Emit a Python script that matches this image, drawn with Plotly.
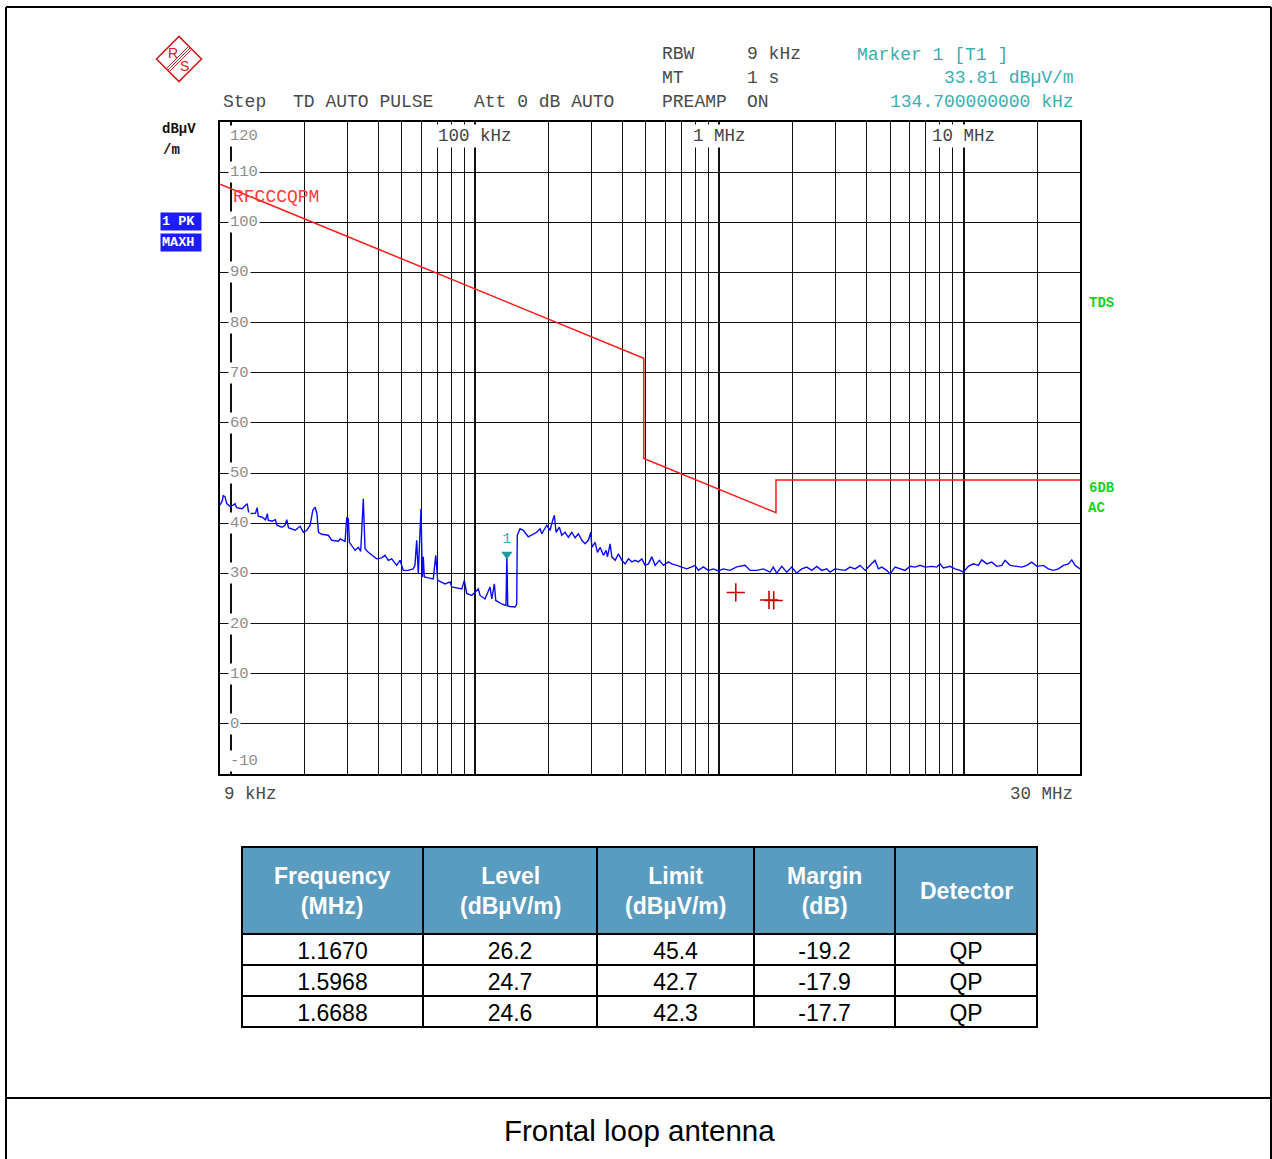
import math
import plotly.graph_objects as go

W, H = 1272, 1159


def px(x):
    return x / W


def py(y):
    return 1 - y / H


# ---------------- data ----------------
freq_khz = [
    9.0, 9.2, 9.28, 9.43, 9.59, 9.88, 10.2, 10.37, 10.53, 11.09, 11.45, 11.63, 11.82, 12.2, 12.58,
    12.78, 12.91, 13.4, 13.82, 14.07, 14.18, 14.7, 15.18, 15.4, 16.14, 16.63, 16.9, 17.17, 18.27,
    19.15, 19.77, 20.41, 21.06, 21.6, 22.08, 22.46, 22.78, 23.52, 25.0, 25.83, 27.5, 27.94, 29.28,
    29.75, 30.2, 30.5, 32.17, 33.2, 33.94, 34.78, 35.1, 35.34, 36.46, 37.65, 39.45, 41.37, 42.67,
    44.02, 45.46, 47.65, 49.16, 50.71, 53.1, 55.7, 56.6, 57.54, 58.42, 59.92, 60.67, 61.23, 61.81,
    64.19, 67.3, 68.85, 70.15, 75.2, 78.83, 80.11, 88.05, 90.17, 92.2, 96.7, 101.4, 102.9, 104.6,
    109.6, 114.9, 116.8, 119.7, 121.3, 128.3, 133.6, 134.7, 135.8, 138.8, 145.5, 147.8, 148.6,
    152.5, 157.3, 164.9, 172.8, 178.5, 184.2, 187.2, 196.2, 202.4, 207.6, 210.8, 214.2, 221,
    226.1, 233.2, 240.6, 248.5, 256.3, 264.5, 273.1, 281.7, 290.6, 297.3, 300.1, 309.6, 316.4,
    324.6, 334.9, 343.5, 347.9, 356.7, 362.5, 374, 385.8, 398.4, 410.9, 424, 437.8, 451.7, 466,
    481.1, 496.3, 512, 528.6, 545.3, 567.9, 589.8, 618.2, 638.1, 669.1, 701.3, 734.9, 770.5,
    794.7, 819.8, 859.4, 900.8, 944.3, 989.8, 1037.6, 1105, 1177, 1274, 1335, 1422, 1514, 1613,
    1663, 1717, 1800, 1887, 1978, 2073, 2173, 2279, 2389, 2505, 2625, 2752, 2840, 2977, 3120,
    3271, 3430, 3596, 3769, 3952, 4076, 4341, 4479, 4624, 4847, 5000, 5242, 5495, 5761, 6039,
    6331, 6637, 6958, 7411, 7769, 8015, 8269, 8807, 9233, 9678, 9986, 10467, 10971, 11500,
    11876, 12451, 13050, 13680, 14337, 14796, 15507, 16515, 17316, 18153, 19035, 19953, 21231,
    22266, 23337, 24462, 25641, 26883, 27756, 28629, 30000,
]
level_dbuv = [
    43.6, 44.5, 45.5, 45.3, 43.9, 43.4, 43.6, 43.9, 43.1, 42.9, 43.6, 43.9, 41.9, 41.9, 42.0,
    43.1, 41.4, 41.2, 40.7, 41.9, 40.6, 40.4, 40.7, 39.6, 39.2, 39.6, 40.7, 39.1, 38.6,
    39.4, 38.2, 38.6, 39.6, 42.6, 43.2, 41.9, 38.2, 37.8, 37.6, 36.6, 36.4, 36.9, 36.4,
    41.2, 40.9, 36.2, 34.6, 35.2, 34.4, 44.9, 37.2, 34.9, 34.2, 33.6, 32.9, 33.1, 33.6,
    32.6, 32.9, 31.6, 32.6, 30.6, 30.6, 30.9, 31.6, 36.6, 29.9, 42.9, 29.3, 33.3, 29.3,
    29.1, 28.9, 33.6, 28.6, 27.9, 28.3, 27.3, 26.9, 28.6, 26.0, 25.6, 26.6, 26.9, 25.6,
    24.9, 27.3, 24.9, 27.9, 24.6, 23.9, 23.6, 33.8, 23.5, 23.4, 23.3, 23.9, 37.6,
    38.9, 38.6, 37.3, 37.9, 38.2, 38.9, 37.9, 39.6, 38.6, 40.6, 41.6, 38.2, 39.2,
    37.6, 38.2, 37.2, 38.2, 37.1, 37.9, 36.6, 35.9, 36.6, 38.2, 35.2, 36.2, 34.2,
    35.2, 33.6, 34.6, 33.3, 35.9, 33.3, 32.6, 33.9, 32.6, 31.9, 32.9, 32.3, 32.6, 32.3,
    32.9, 31.6, 31.9, 33.3, 31.6, 32.6, 31.6, 32.3, 31.9, 31.6, 31.3, 30.9, 31.3,
    31.6, 30.6, 31.3, 30.6, 30.9, 30.5, 30.9, 30.6, 31.3, 31.6, 30.6, 30.6, 30.9, 30.25,
    31.25, 30.05, 31.4, 30.25, 31.25, 30.05, 30.9, 31.25, 30.6, 31.4, 30.6, 30.9, 30.25, 30.9, 30.7,
    30.6, 31.25, 30.9, 31.6, 30.6, 31.25, 32.6, 30.9, 31.25, 30.6, 29.9, 31.25, 30.9, 30.6, 31.4,
    31.25, 31.6, 31.25, 31.4, 31.25, 31.9, 31.1, 31.4, 30.9, 30.6, 30.25, 31.4, 31.9, 31.6,
    32.7, 31.9, 32.25, 31.4, 31.6, 32.6, 31.6, 31.4, 31.25, 31.6, 32.25, 31.4, 31.6,
    30.9, 30.6, 30.9, 31.6, 31.9, 32.7, 31.6, 30.9,
]

limit_freq_khz = [9, 490, 490, 1705, 1705, 30000]
limit_dbuv = [107.6, 72.9, 52.9, 42.1, 48.6, 48.6]

marker_freq_khz = [134.7]
marker_level = [33.81]
marker_name = ["1"]

qp_freq_mhz = [1.1670, 1.5968, 1.6688]
qp_level = [26.2, 24.7, 24.6]
qp_limit = [45.4, 42.7, 42.3]
qp_margin = [-19.2, -17.9, -17.7]
qp_detector = ["QP", "QP", "QP"]
table_headers = ["Frequency<br>(MHz)", "Level<br>(dBµV/m)",
                 "Limit<br>(dBµV/m)", "Margin<br>(dB)", "Detector"]

y_label_vals = [120, 110, 100, 90, 80, 70, 60, 50, 40, 30, 20, 10, 0, -10]
x_top_label_khz = [100, 1000, 10000]
x_top_label_txt = ["100 kHz", "1 MHz", "10 MHz"]

F_MIN, F_MAX = 9, 30000
Y_MIN, Y_MAX = -10, 120

MONO = "Liberation Mono"
SANS = "Liberation Sans"
TEAL = "#3aafaf"
GRN = "#19d119"

fig = go.Figure()

# limit line (on decade-grid overlay axis, same scale)
fig.add_trace(go.Scatter(x=limit_freq_khz, y=limit_dbuv, mode="lines",
                         line=dict(color="#ff1a1a", width=1.5), xaxis="x2", yaxis="y",
                         hoverinfo="skip", showlegend=False))
# measured trace
fig.add_trace(go.Scatter(x=freq_khz, y=level_dbuv, mode="lines",
                         line=dict(color="#0a0aff", width=1.4), hoverinfo="skip", showlegend=False))
# QP results
fig.add_trace(go.Scatter(x=[f * 1000 for f in qp_freq_mhz], y=qp_level, mode="markers",
                         marker=dict(symbol="cross-thin", size=13, line=dict(color="#cc0000", width=1.6)),
                         hoverinfo="skip", showlegend=False))
# marker 1
fig.add_trace(go.Scatter(x=marker_freq_khz, y=marker_level, mode="markers+text",
                         text=marker_name, textposition="top center",
                         textfont=dict(family=MONO, size=15, color=TEAL),
                         marker=dict(symbol="triangle-down", size=10, color="#1f9c9c"),
                         hoverinfo="skip", showlegend=False))

# table (header text drawn as centred annotations below)
col_w = [181, 174, 157, 141, 142]
TBL_X0, TBL_X1 = 242, 1037
fig.add_trace(go.Table(
    domain=dict(x=[px(TBL_X0), px(TBL_X1)], y=[py(1028), py(847)]),
    columnwidth=col_w,
    header=dict(values=[""] * len(table_headers), fill_color="#5a9bc0",
                line=dict(color="black", width=2), align="center",
                font=dict(family=SANS, size=22, color="white"), height=87),
    cells=dict(values=[qp_freq_mhz, qp_level, qp_limit, qp_margin, qp_detector],
               format=[".4f", ".1f", ".1f", ".1f", ""],
               fill_color="white", line=dict(color="black", width=2), align="center",
               font=dict(family=SANS, size=23, color="black"), height=31),
))

xr = [math.log10(F_MIN), math.log10(F_MAX)]
fig.update_layout(
    width=W, height=H, margin=dict(l=0, r=0, t=0, b=0),
    paper_bgcolor="white", plot_bgcolor="white",
    xaxis=dict(type="log", range=xr, domain=[px(220), px(1080)], dtick="D1",
               showgrid=True, gridcolor="#111", gridwidth=1.3, showticklabels=False, ticks="",
               showline=True, linecolor="black", linewidth=2, mirror=True, zeroline=False),
    xaxis2=dict(type="log", range=xr, overlaying="x", dtick=1, showgrid=True, gridcolor="#111",
                gridwidth=2.4, showticklabels=False, ticks="", showline=False, zeroline=False),
    yaxis=dict(range=[Y_MIN, Y_MAX], domain=[py(774), py(122)], dtick=10, tick0=0,
               showgrid=True, gridcolor="#111", gridwidth=1.3, showticklabels=False, ticks="",
               showline=True, linecolor="black", linewidth=2, mirror=True, zeroline=False),
)

ann = []
# y labels
for v in y_label_vals:
    shift = -14 if v == Y_MAX else (13 if v == Y_MIN else 0)
    ann.append(dict(x=1, xref="x", y=v, yref="y", text=str(v), showarrow=False,
                    xanchor="left", yanchor="middle", xshift=-3, yshift=shift,
                    bgcolor="white", borderpad=1,
                    font=dict(family=MONO, size=15.5, color="#8c8c8c")))
# top decade labels
for f, t in zip(x_top_label_khz, x_top_label_txt):
    ann.append(dict(x=math.log10(f), xref="x", y=py(136), yref="paper", text=t, showarrow=False,
                    xanchor="center", yanchor="middle", bgcolor="white", borderpad=1,
                    font=dict(family=MONO, size=17.5, color="#444")))


def label(x, y, text, anchor="left", size=18, color="#4a4a4a", family=MONO, **kw):
    d = dict(x=px(x), y=py(y), xref="paper", yref="paper", text=text, showarrow=False,
             xanchor=anchor, yanchor="middle", font=dict(family=family, size=size, color=color))
    d.update(kw)
    ann.append(d)


# table header labels, centred in each column
scale = (TBL_X1 - TBL_X0) / sum(col_w)
xc = TBL_X0
for w, t in zip(col_w, table_headers):
    cx = xc + w * scale / 2
    xc += w * scale
    label(cx, 891, "<b>" + t + "</b>", anchor="center", size=23, color="white", family=SANS)

label(222, 794, "9 kHz", size=17.5)
label(1075, 794, "30 MHz", anchor="right", size=17.5)
label(221, 102, "Step")
label(291, 102, "TD AUTO PULSE")
label(472, 102, "Att 0 dB AUTO")
label(660, 54, "RBW")
label(745, 54, "9 kHz")
label(660, 78, "MT")
label(745, 78, "1 s")
label(660, 102, "PREAMP")
label(745, 102, "ON")
label(855, 55, "Marker 1 [T1 ]", color=TEAL)
label(1076, 78, "33.81 dBµV/m", anchor="right", color=TEAL)
label(1076, 102, "134.700000000 kHz", anchor="right", color=TEAL)
label(160, 129, "<b>dBµV</b>", size=14, color="#111")
label(161, 150, "<b>/m</b>", size=14, color="#111")
label(160, 222, "<b>1 PK</b>", size=13.5, color="white", bgcolor="#1c1cff", width=38, height=15,
      align="left", borderpad=1)
label(160, 242, "<b>MAXH</b>", size=13.5, color="white", bgcolor="#1c1cff", width=38, height=15,
      align="left", borderpad=1)
label(1087, 303, "<b>TDS</b>", size=14, color=GRN)
label(1087, 488, "<b>6DB</b>", size=14, color=GRN)
label(1086, 508, "<b>AC</b>", size=14, color=GRN)
label(231, 197, "RFCCCQPM", size=18, color="#ff3b3b")
label(639, 1130, "Frontal loop antenna", anchor="center", size=29.5, color="black", family=SANS)
# R&S logo letters
label(172.5, 52.5, "R", anchor="center", size=14, color="#cc1f1f", family=SANS)
label(184.5, 66.5, "S", anchor="center", size=14, color="#cc1f1f", family=SANS)

fig.update_layout(annotations=ann)

shapes = []


def seg(x0, y0, x1, y1, w=2, c="black"):
    shapes.append(dict(type="line", xref="paper", yref="paper", x0=px(x0), y0=py(y0),
                       x1=px(x1), y1=py(y1), line=dict(color=c, width=w)))


# page frame
seg(6, 7, 1271, 7, 2)
seg(6, 7, 6, 1159, 2)
seg(1271, 7, 1271, 1159, 2)
seg(6, 1098, 1271, 1098, 2)
# logo diamond
red = "#cc1f1f"
path = "M {} {} L {} {} L {} {} L {} {} Z".format(px(156.5), py(59), px(179), py(36.5),
                                                  px(201.5), py(59), px(179), py(81.5))
shapes.append(dict(type="path", xref="paper", yref="paper", path=path, line=dict(color=red, width=1.6)))
for k in (-1.5, 0, 1.5):
    seg(167.8 + k, 70.2 + k, 190.2 + k, 47.8 + k, 1, red)

fig.update_layout(shapes=shapes)

fig.write_html("out.html", config={"displayModeBar": False},
               post_script="document.body.style.margin='0';document.body.style.overflow='hidden';")
